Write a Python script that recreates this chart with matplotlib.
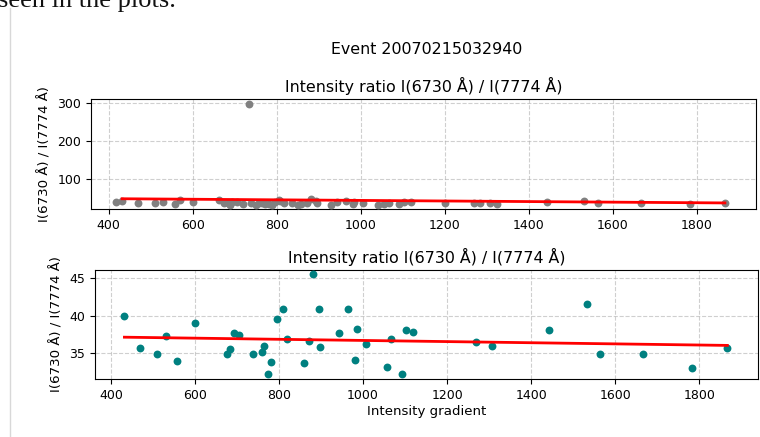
import matplotlib
matplotlib.use("Agg")
import matplotlib.pyplot as plt
import numpy as np

# ---- data ----
grad_filt = [432, 470, 510, 530, 558, 600, 675, 684, 693, 705, 738, 759, 764, 773, 782,
             795, 809, 818, 859, 872, 882, 894, 897, 943, 965, 981, 985, 1006, 1056,
             1067, 1092, 1102, 1119, 1269, 1307, 1443, 1532, 1565, 1667, 1783, 1867]
ratio_filt = [40.0, 35.6, 34.8, 37.3, 33.9, 39.0, 34.9, 35.5, 37.6, 37.4, 34.8, 35.1, 35.9,
              32.2, 33.8, 39.6, 40.9, 36.9, 33.6, 36.6, 45.5, 40.9, 35.8, 37.7, 40.9, 34.0,
              38.2, 36.2, 33.1, 36.9, 32.2, 38.1, 37.8, 36.5, 35.9, 38.1, 41.5, 34.8, 34.8,
              33.0, 35.7]

# extra points only present in the unfiltered (top) panel
grad_extra = [418, 570, 662, 690, 720, 735, 750, 790, 805, 837, 850, 930, 1040, 1200, 1285, 1325]
ratio_extra = [38.0, 44.0, 44.0, 31.0, 33.0, 297.0, 30.5, 31.0, 44.0, 36.0, 31.5, 31.0, 30.5,
               36.0, 36.5, 34.0]

grad_all = grad_filt + grad_extra
ratio_all = ratio_filt + ratio_extra

fit_x = [432, 1867]
fit_all = [47.0, 36.0]
fit_filt = [37.1, 36.0]

suptitle = "Event 20070215032940"
title = "Intensity ratio I(6730 Å) / I(7774 Å)"
ylabel = "I(6730 Å) / I(7774 Å)"
xlabel = "Intensity gradient"
xticks = [400, 600, 800, 1000, 1200, 1400, 1600, 1800]
yticks_top = [100, 200, 300]
yticks_bot = [35, 40, 45]

# ---- figure ----
W, H = 760, 437
fig = plt.figure(figsize=(W / 100, H / 100), dpi=100)

def box(l, t, r, b):
    return [l / W, 1 - b / H, (r - l) / W, (b - t) / H]

ax1 = fig.add_axes(box(91, 99, 756, 209))
ax2 = fig.add_axes(box(95, 270, 758, 379))

fs_tick = 9
fs_label = 9.6
fs_title = 11.4

for ax, gx, gy, col, fy, yt in [
    (ax1, grad_all, ratio_all, "gray", fit_all, yticks_top),
    (ax2, grad_filt, ratio_filt, "teal", fit_filt, yticks_bot),
]:
    ax.scatter(gx, gy, s=32, color=col, zorder=3, linewidths=0)
    ax.plot(fit_x, fy, color="red", lw=2, zorder=4)
    ax.set_xticks(xticks)
    ax.set_yticks(yt)
    ax.tick_params(labelsize=fs_tick)
    ax.grid(True, linestyle="--", color="#b0b0b0", alpha=0.6, lw=0.8)
    ax.set_axisbelow(True)
    ax.set_title(title, fontsize=fs_title, pad=5)
    ax.set_ylabel(ylabel, fontsize=fs_label)

ax1.set_xlim(358, 1941)
ax1.set_ylim(20, 310)
ax2.set_xlim(362, 1940)
ax2.set_ylim(31.5, 46.1)
ax2.set_xlabel(xlabel, fontsize=fs_label, labelpad=2)

fig.text(427 / W, 1 - 49 / H, suptitle, ha="center", va="center", fontsize=fs_title)

# screenshot context: page border and cropped page text
fig.add_artist(plt.Line2D([9.5 / W, 9.5 / W], [0, 1 - 8 / H], color="#d8d8d8", lw=1,
                          transform=fig.transFigure))
fig.text(-2 / W, 1 - 7 / H, "seen in the plots.", ha="left", va="baseline",
         fontsize=19, family="Liberation Serif", color="#111111")

fig.savefig("out.png", dpi=100)
